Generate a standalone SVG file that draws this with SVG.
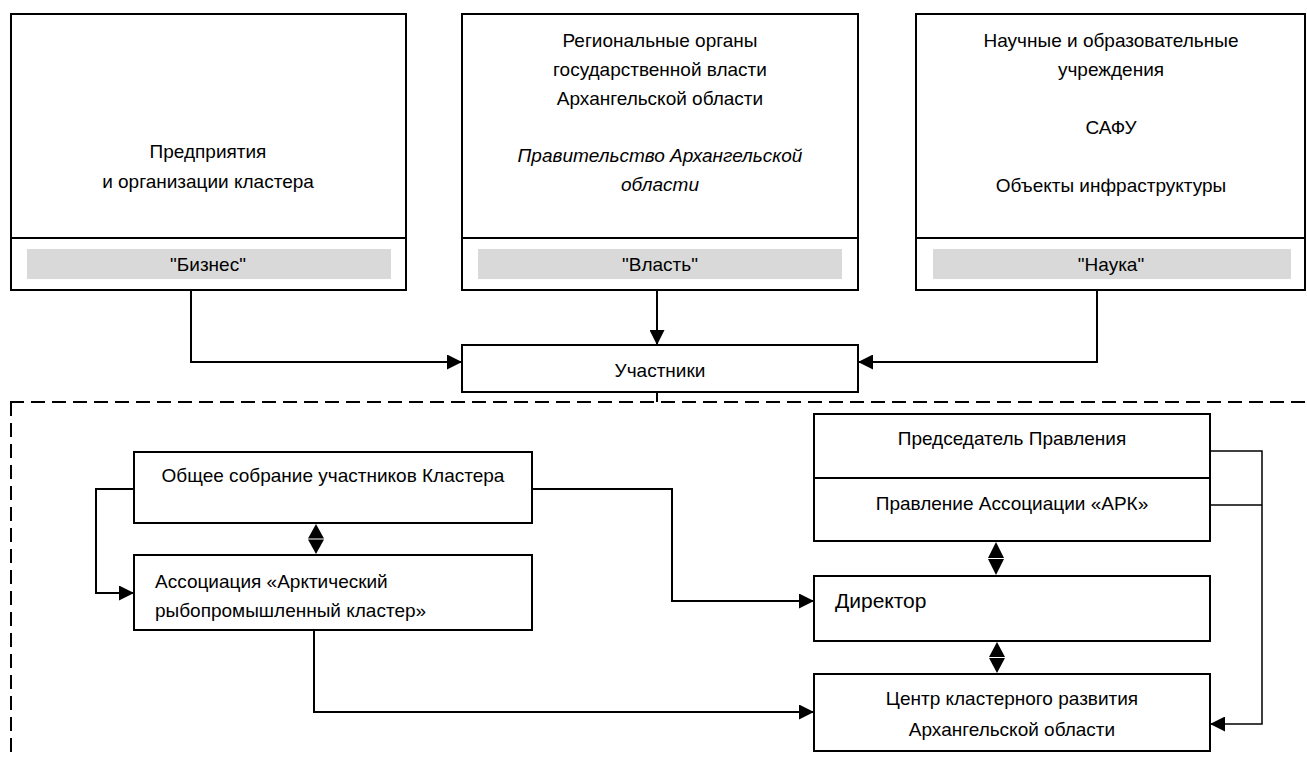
<svg xmlns="http://www.w3.org/2000/svg" width="1307" height="758" viewBox="0 0 1307 758">
<defs>
<style>
.box{fill:#fff;stroke:#000;stroke-width:2}
.band{fill:#d9d9d9;stroke:none}
.t{font-family:"Liberation Sans",Arial,sans-serif;font-size:19px;fill:#000}
.c{text-anchor:middle}
.i{font-style:italic}
.ln{fill:none;stroke:#000;stroke-width:2}
.thin{fill:none;stroke:#000;stroke-width:1.5}
.dash{fill:none;stroke:#000;stroke-width:2;stroke-dasharray:14 7}
.tri{fill:#000;stroke:none}
</style>
<marker id="ah" markerUnits="userSpaceOnUse" markerWidth="15" markerHeight="15" refX="15" refY="7.5" orient="auto">
<path d="M0,0 L15,7.5 L0,15 z" fill="#000"/>
</marker>
</defs>

<g id="connectors">
<path class="ln" d="M191,290 V362 H462" marker-end="url(#ah)"/>
<path class="ln" d="M657,290 V345" marker-end="url(#ah)"/>
<path class="ln" d="M1097,290 V362 H858" marker-end="url(#ah)"/>
<path class="ln" d="M657,392 V402"/>
<path class="ln" d="M134,489 H96 V593 H134" marker-end="url(#ah)"/>
<path class="ln" d="M532,489 H672 V601 H814" marker-end="url(#ah)"/>
<path class="ln" d="M314,630 V712 H814" marker-end="url(#ah)"/>
<path class="thin" d="M1210,451 H1262 V724 H1210" marker-end="url(#ah)"/>
<path class="thin" d="M1210,505 H1262"/>
<polygon class="tri" points="316,524 308,538.5 324,538.5"/>
<polygon class="tri" points="316,554 308,539.5 324,539.5"/>
<polygon class="tri" points="996,542 988,558 1004,558"/>
<polygon class="tri" points="996,575 988,559 1004,559"/>
<polygon class="tri" points="997,642 989,657 1005,657"/>
<polygon class="tri" points="997,673 989,658 1005,658"/>
</g>

<g id="boundary">
<path class="dash" d="M10,402 H1307"/>
<path class="dash" d="M11,402 V758"/>
</g>

<g id="business">
<rect class="box" x="11" y="14" width="395" height="276"/>
<line class="ln" x1="11" y1="238" x2="406" y2="238"/>
<rect class="band" x="27" y="249" width="364" height="30"/>
<text class="t c" x="208" y="158">Предприятия</text>
<text class="t c" x="208" y="188">и организации кластера</text>
<text class="t c" x="208" y="271">"Бизнес"</text>
</g>

<g id="power">
<rect class="box" x="462" y="14" width="396" height="276"/>
<line class="ln" x1="462" y1="238" x2="858" y2="238"/>
<rect class="band" x="478" y="249" width="364" height="30"/>
<text class="t c" x="660" y="47">Региональные органы</text>
<text class="t c" x="660" y="76">государственной власти</text>
<text class="t c" x="660" y="105">Архангельской области</text>
<text class="t c i" x="660" y="162">Правительство Архангельской</text>
<text class="t c i" x="660" y="191">области</text>
<text class="t c" x="660" y="271">"Власть"</text>
</g>

<g id="science">
<rect class="box" x="916" y="14" width="389" height="276"/>
<line class="ln" x1="916" y1="238" x2="1305" y2="238"/>
<rect class="band" x="933" y="249" width="358" height="30"/>
<text class="t c" x="1111" y="47">Научные и образовательные</text>
<text class="t c" x="1111" y="76">учреждения</text>
<text class="t c" x="1111" y="134">САФУ</text>
<text class="t c" x="1111" y="192">Объекты инфраструктуры</text>
<text class="t c" x="1111" y="271">"Наука"</text>
</g>

<g id="participants">
<rect class="box" x="462" y="345" width="396" height="47"/>
<text class="t c" x="660" y="377">Участники</text>
</g>

<g id="general-meeting">
<rect class="box" x="134" y="452" width="398" height="71"/>
<text class="t c" x="333" y="482">Общее собрание участников Кластера</text>
</g>

<g id="association">
<rect class="box" x="134" y="555" width="398" height="75"/>
<text class="t" x="155" y="588">Ассоциация «Арктический</text>
<text class="t" x="155" y="617">рыбопромышленный кластер»</text>
</g>

<g id="board">
<rect class="box" x="814" y="414" width="396" height="127"/>
<line class="ln" x1="814" y1="478" x2="1210" y2="478"/>
<text class="t c" x="1012" y="445">Председатель Правления</text>
<text class="t c" x="1012" y="510">Правление Ассоциации «АРК»</text>
</g>

<g id="director">
<rect class="box" x="814" y="576" width="396" height="65"/>
<text class="t" x="835" y="608" style="font-size:21px">Директор</text>
</g>

<g id="center">
<rect class="box" x="814" y="674" width="396" height="77"/>
<text class="t c" x="1012" y="705">Центр кластерного развития</text>
<text class="t c" x="1012" y="736">Архангельской области</text>
</g>
</svg>
